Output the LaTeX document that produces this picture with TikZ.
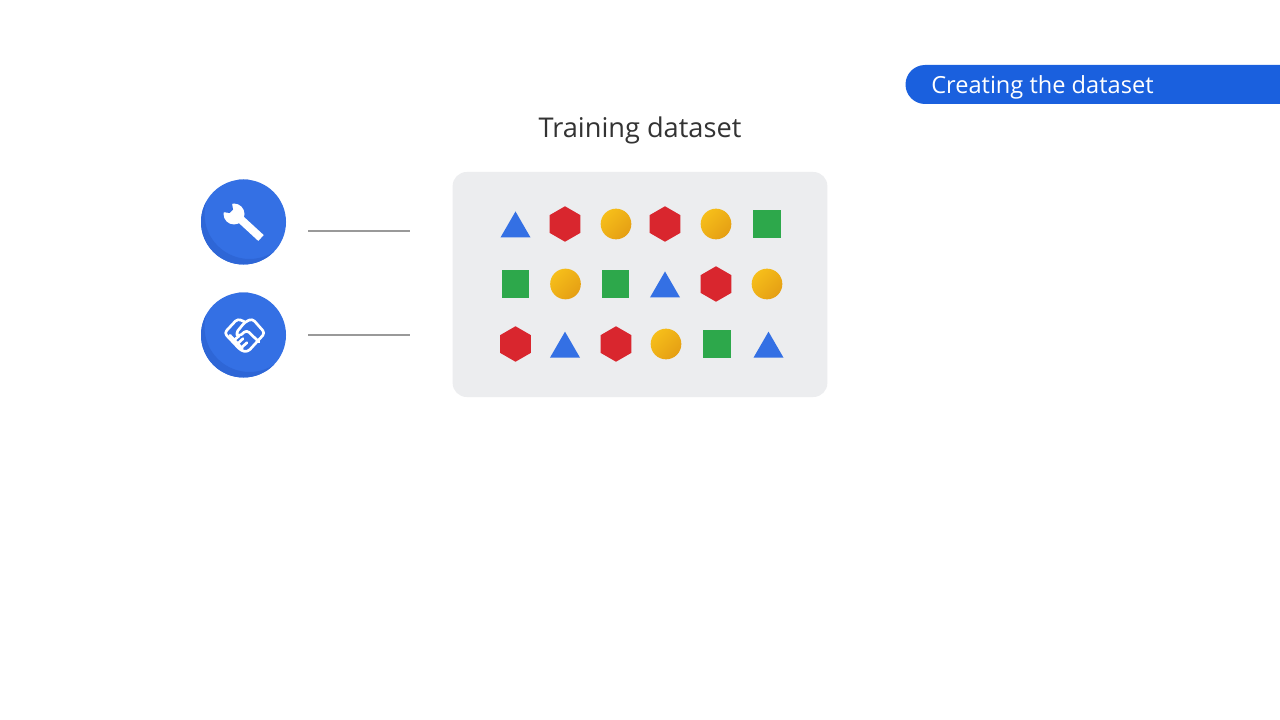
\documentclass[tikz,border=0pt]{standalone}
\usepackage{fontspec}
\setmainfont{Open Sans}
\usetikzlibrary{shapes.geometric}
\definecolor{bluea}{HTML}{3470E4}
\definecolor{blueb}{HTML}{2E66D6}
\definecolor{tagblue}{HTML}{1A60DE}
\definecolor{panel}{HTML}{ECEDEF}
\definecolor{rede}{HTML}{D9262E}
\definecolor{greene}{HTML}{2DA84B}
\definecolor{yellowa}{HTML}{F6BE1A}
\definecolor{yellowb}{HTML}{E59F14}
\tikzset{
    tri/.style={regular polygon,regular polygon sides=3,fill=bluea,inner sep=0pt,minimum size=26pt},
    hex/.style={regular polygon,regular polygon sides=6,shape border rotate=30,fill=rede,inner sep=0pt,minimum size=26.6pt},
    dot/.style={circle,shade,left color=yellowa,right color=yellowb,shading angle=45,inner sep=0pt,minimum size=23pt},
    sq/.style={rectangle,fill=greene,inner sep=0pt,minimum size=20.8pt},
    badge/.style={circle,fill=bluea,inner sep=0pt,minimum size=63.75pt},
    rule/.style={draw=gray!80,line width=0.9pt}
}
\begin{document}
\begin{tikzpicture}[x=0.75pt,y=-0.75pt]

            \useasboundingbox[fill=white] (0,0) rectangle (1280,720);

            \fill[tagblue] (1280,65) -- (925,65) arc[start angle=270,end angle=90,radius=19.5] -- (1280,104) -- cycle;
            \node (tagtext) [anchor=base west,inner sep=0pt,text=white,font=\fontsize{17.7pt}{20pt}\selectfont] at (931,93.5) {Creating the dataset};
            \node (title) [anchor=base,inner sep=0pt,text=black!80,font=\fontsize{20.4pt}{24pt}\selectfont] at (640,137.5) {Training dataset};

            \node (panelbox) [rectangle,rounded corners=10.5pt,fill=panel,minimum width=281pt,minimum height=168.75pt] at (640,284.5) {};

            % first row
            \path   (515.5,228.8) node (a1) [tri] {}
                    (565,224) node (a2) [hex] {}
                    (616,224) node (a3) [dot] {}
                    (665,224) node (a4) [hex] {}
                    (716,224) node (a5) [dot] {}
                    (767,224) node (a6) [sq] {};
            % second row
            \path   (515.5,284) node (b1) [sq] {}
                    (565.5,284) node (b2) [dot] {}
                    (615.5,284) node (b3) [sq] {}
                    (665,288.8) node (b4) [tri] {}
                    (716,284) node (b5) [hex] {}
                    (767,284) node (b6) [dot] {};
            % third row
            \path   (515.5,344) node (c1) [hex] {}
                    (565,349) node (c2) [tri] {}
                    (616,344) node (c3) [hex] {}
                    (666,344) node (c4) [dot] {}
                    (717,344) node (c5) [sq] {}
                    (768.5,349) node (c6) [tri] {};

            \node (tool) [badge] at (243.5,222) {};
            \node (deal) [badge] at (243.5,335) {};

            \coordinate (toolend) at (410,231);
            \coordinate (toolstart) at (308,231);
            \coordinate (dealend) at (410,335);
            \coordinate (dealstart) at (308,335);
            \draw[rule] (toolstart) -- (toolend);
            \draw[rule] (dealstart) -- (dealend);

            % darker lower edge of the badges
            \begin{scope}
                \clip (243.5,222) circle[radius=42.5];
                \fill[blueb,even odd rule] (201,180) rectangle (286,265) (249.5,214) circle[radius=45];
            \end{scope}
            \begin{scope}
                \clip (243.5,335) circle[radius=42.5];
                \fill[blueb,even odd rule] (201,293) rectangle (286,378) (249.5,327) circle[radius=45];
            \end{scope}

            % wrench
            \draw[white,line width=6pt,line cap=butt] (236,215) -- (261,238);
            \fill[white] (234,214) circle[radius=10.5];
            \fill[bluea] (233,209.5) -- (231.5,200) -- (220,200) -- (222.5,212) -- (229.5,213) -- cycle;

            % handshake
            \begin{scope}[shift={(215,308)},x=0.25pt,y=-0.25pt,white,line width=2pt,line join=round,line cap=round]
                \draw[rounded corners=2.5pt] (90,42) -- (68,32) -- (28,75) -- (78,128) -- (98,132) -- (150,75) -- (112,32) -- (90,42) -- (62,76) -- (72,86) -- (95,66) -- (132,102);
                \draw (45,82) -- (82,122);
                \draw (58,96) -- (72,84);
                \draw (68,107) -- (84,92);
                \draw (80,118) -- (96,104);
            \end{scope}
        \end{tikzpicture}
\end{document}
